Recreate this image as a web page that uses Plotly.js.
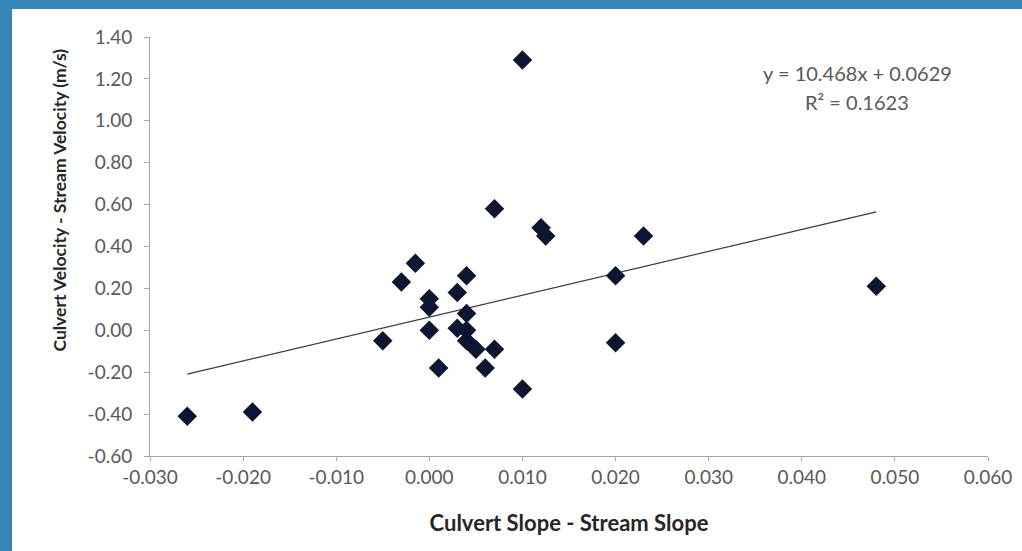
<!DOCTYPE html>
<html>
<head>
<meta charset="utf-8">
<script src="https://cdn.plot.ly/plotly-3.0.1.min.js"></script>
<style>
html,body{margin:0;padding:0;background:#3585b8;width:1022px;height:551px;overflow:hidden;}
#chart{position:absolute;left:12px;top:9px;width:1010px;height:542px;background:#fff;}
</style>
</head>
<body>
<div id="chart"></div>
<script>
const slopeDiff = [-0.026, -0.019, -0.005, -0.003, -0.0015, 0.000, 0.000, 0.000, 0.001, 0.003, 0.004, 0.004, 0.003, 0.004, 0.004, 0.005, 0.007, 0.006, 0.010, 0.012, 0.0125, 0.007, 0.010, 0.023, 0.020, 0.020, 0.048];
const velocityDiff = [-0.41, -0.39, -0.05, 0.23, 0.32, 0.15, 0.11, 0.00, -0.18, 0.18, 0.26, 0.08, 0.01, 0.00, -0.05, -0.09, -0.09, -0.18, -0.28, 0.49, 0.45, 0.58, 1.29, 0.45, 0.26, -0.06, 0.21];
const slope = 10.468, intercept = 0.0629, r2 = 0.1623;
const trendX = [-0.026, 0.048];
const trendY = trendX.map(x => slope * x + intercept);
const xTicks = [-0.03, -0.02, -0.01, 0, 0.01, 0.02, 0.03, 0.04, 0.05, 0.06];
const xTickText = ['-0.030','-0.020','-0.010','0.000','0.010','0.020','0.030','0.040','0.050','0.060'];
const yTicks = [-0.6,-0.4,-0.2,0,0.2,0.4,0.6,0.8,1.0,1.2,1.4];
const yTickText = ['-0.60','-0.40','-0.20','0.00','0.20','0.40','0.60','0.80','1.00','1.20','1.40'];

const font = "Lato, 'Open Sans', sans-serif";
const traces = [
  {x: trendX, y: trendY, mode: 'lines', line: {color: '#3a3a3a', width: 1.2}, hoverinfo: 'skip', showlegend: false},
  {x: slopeDiff, y: velocityDiff, mode: 'markers', type: 'scatter',
   marker: {symbol: 'diamond', size: 15, color: '#0b1730', line: {color: '#0b1730', width: 0}}, showlegend: false}
];
const layout = {
  width: 1010, height: 542,
  margin: {l: 138, r: 34, t: 28, b: 95},
  paper_bgcolor: '#ffffff', plot_bgcolor: '#ffffff',
  font: {family: font, color: '#595959', size: 19},
  xaxis: {range: [-0.03, 0.06], tickvals: xTicks, ticktext: xTickText, showgrid: false, zeroline: false,
    showline: true, linecolor: '#a6a6a6', linewidth: 1, ticks: 'outside', ticklen: 4, tickcolor: '#a6a6a6',
    tickfont: {size: 19, color: '#595959'}, ticklabelstandoff: 0,
    title: {text: 'Culvert Slope - Stream Slope', font: {size: 22, color: '#262626', family: font, weight: 'bold'}, standoff: 28}},
  yaxis: {range: [-0.6, 1.4], tickvals: yTicks, ticktext: yTickText, showgrid: false, zeroline: false,
    showline: true, linecolor: '#a6a6a6', linewidth: 1, ticks: 'outside', ticklen: 5, tickcolor: '#a6a6a6',
    tickfont: {size: 19, color: '#595959'}, ticklabelstandoff: 8},
  annotations: [
    {xref: 'paper', yref: 'paper', x: -0.1074, y: 0.612, xanchor: 'center', yanchor: 'middle', showarrow: false,
     textangle: -90, text: 'Culvert Velocity - Stream Velocity (m/s)',
     font: {size: 17.5, color: '#262626', family: font, weight: 'bold'}},
    {xref: 'paper', yref: 'paper', x: 0.844, y: 0.914, xanchor: 'center', yanchor: 'middle', showarrow: false,
     text: 'y = 10.468x + 0.0629', font: {size: 20, color: '#595959', family: font}},
    {xref: 'paper', yref: 'paper', x: 0.844, y: 0.845, xanchor: 'center', yanchor: 'middle', showarrow: false,
     text: 'R² = 0.1623', font: {size: 20, color: '#595959', family: font}}
  ]
};
Plotly.newPlot('chart', traces, layout, {displayModeBar: false, staticPlot: true});
</script>
</body>
</html>
